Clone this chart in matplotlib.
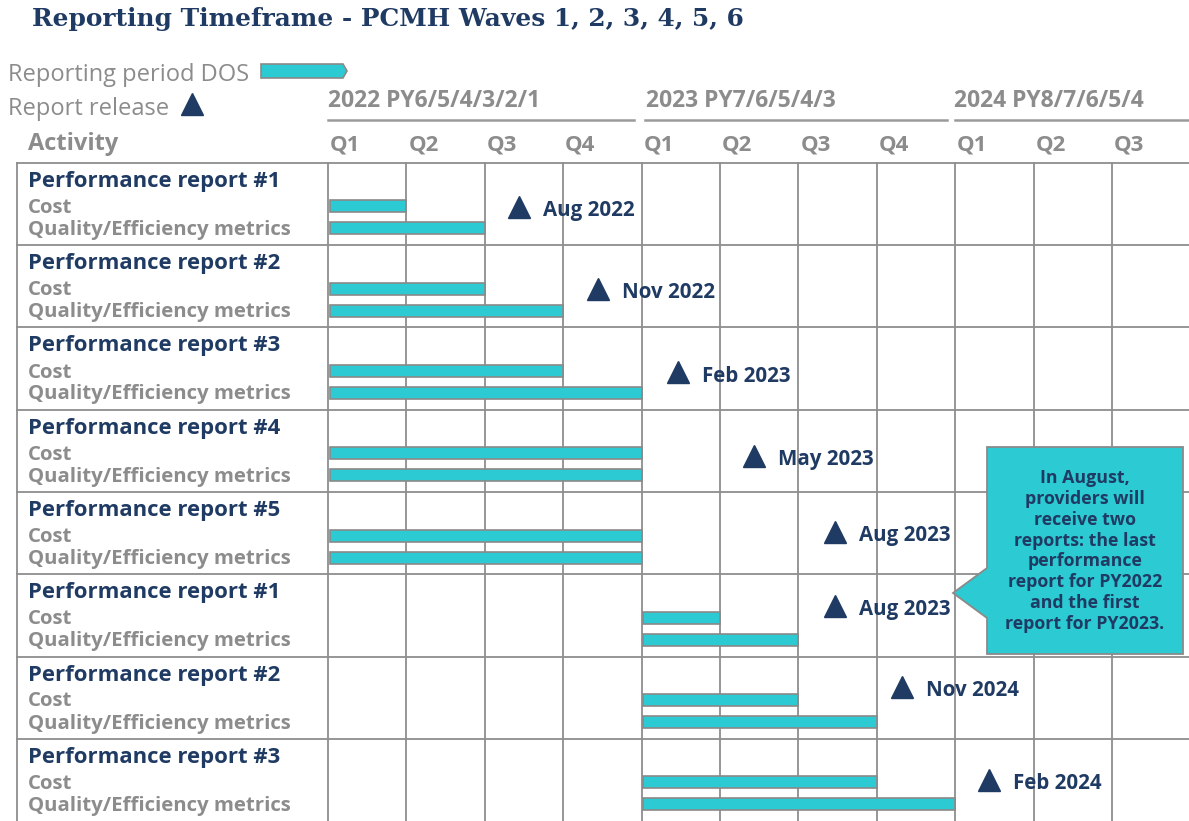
import matplotlib
matplotlib.use("Agg")
import matplotlib.pyplot as plt
from matplotlib.transforms import Affine2D
from matplotlib.patches import Polygon

# ---- data ----
reports = ["Performance report #1", "Performance report #2", "Performance report #3",
           "Performance report #4", "Performance report #5",
           "Performance report #1", "Performance report #2", "Performance report #3"]
bar_start = [0, 0, 0, 0, 0, 4, 4, 4]          # quarters since 2022 Q1
cost_end = [1, 2, 3, 4, 4, 5, 6, 7]
quality_end = [2, 3, 4, 4, 4, 6, 7, 8]
release_q = [2.43, 3.44, 4.46, 5.43, 6.47, 6.47, 7.32, 8.43]
release_lbl = ["Aug 2022", "Nov 2022", "Feb 2023", "May 2023",
               "Aug 2023", "Aug 2023", "Nov 2024", "Feb 2024"]
years = ["2022 PY6/5/4/3/2/1", "2023 PY7/6/5/4/3", "2024 PY8/7/6/5/4"]
quarters = ["Q1", "Q2", "Q3", "Q4", "Q1", "Q2", "Q3", "Q4", "Q1", "Q2", "Q3"]
note = ("In August,\nproviders will\nreceive two\nreports: the last\nperformance\n"
        "report for PY2022\nand the first\nreport for PY2023.")

CYAN = "#2ccad2"
NAVY = "#1f3a63"
GRAY = "#8c8c8c"
LINE = "#8e8e8e"
W, H = 1189, 821

plt.rcParams['font.family'] = ['Open Sans', 'DejaVu Sans']
fig = plt.figure(figsize=(W / 100, H / 100), dpi=100)
pix = Affine2D().scale(1 / W, -1 / H).translate(0, 1) + fig.transFigure

# data axes: x in quarters, y in rows (px = 328 + 78.4*q, py = 163 + 82.25*r)
QW, RH = 78.4, 82.25
ax = fig.add_axes([0, 0, 1, 1])
ax.set_xlim(-328 / QW, (W - 328) / QW)
ax.set_ylim(8, -163 / RH)
ax.axis("off")

# grid
for q in range(0, 11):
    ax.plot([q, q], [0, 8], color=LINE, lw=1.3, zorder=1)
ax.plot([-311 / QW, -311 / QW], [0, 8], color=LINE, lw=1.3, zorder=1)
for r in range(0, 8):
    ax.plot([-311 / QW, (W - 328) / QW], [r, r], color=LINE, lw=1.3, zorder=1)

# bars
mark_dy = [44, 44, 45, 46, 40, 32, 30, 41]
for i in range(8):
    ax.barh(i + 43.5 / RH, cost_end[i] - bar_start[i] - 0.02, left=bar_start[i] + 0.02,
            height=12 / RH, color=CYAN, edgecolor="#8a8a8a", lw=1.2, zorder=3)
    ax.barh(i + 65.5 / RH, quality_end[i] - bar_start[i] - 0.02, left=bar_start[i] + 0.02,
            height=12 / RH, color=CYAN, edgecolor="#8a8a8a", lw=1.2, zorder=3)
    my = i + mark_dy[i] / RH
    ax.plot(release_q[i], my, marker="^", ms=16, color=NAVY, zorder=4)
    ax.text(release_q[i] + 24 / QW, my + 9 / RH, release_lbl[i], color=NAVY,
            fontsize=14.8, fontweight="bold", va="baseline", ha="left", zorder=4)
    # left labels
    top = 163 + RH * i
    fig.text(28, top + 24, reports[i], transform=pix, color=NAVY, fontsize=15.9,
             fontweight="bold", va="baseline")
    fig.text(28, top + 50, "Cost", transform=pix, color=GRAY, fontsize=14.7,
             fontweight="bold", va="baseline")
    fig.text(28, top + 72, "Quality/Efficiency metrics", transform=pix, color=GRAY,
             fontsize=14.7, fontweight="bold", va="baseline")

# header
fig.text(32, 26, "Reporting Timeframe - PCMH Waves 1, 2, 3, 4, 5, 6", transform=pix,
         family="DejaVu Serif", fontweight="bold", fontsize=17.9, color=NAVY, va="baseline")
fig.text(8, 81, "Reporting period DOS", transform=pix, color=GRAY, fontsize=17, va="baseline")
fig.text(8, 115, "Report release", transform=pix, color=GRAY, fontsize=17, va="baseline")
fig.patches.append(Polygon([(261, 64), (343, 64), (347, 71), (343, 78), (261, 78)],
                           closed=True, transform=pix, fc=CYAN, ec="#8a8a8a", lw=1.2))
fig.lines.append(plt.Line2D([192], [104], transform=pix, marker="^", ms=16, color=NAVY))

year_x = [328, 646, 954]
year_line = [(328, 634), (645, 947), (955, W)]
for i in range(3):
    fig.text(year_x[i], 107, years[i], transform=pix, color=GRAY, fontsize=16.5,
             fontweight="bold", va="baseline")
    fig.lines.append(plt.Line2D(year_line[i], [120, 120], transform=pix, color="#9a9a9a", lw=1.8))
for q, lbl in enumerate(quarters):
    ax.text(q + 2 / QW, -12 / RH, lbl, color=GRAY, fontsize=16, fontweight="bold",
            va="baseline")
fig.text(28, 150, "Activity", transform=pix, color=GRAY, fontsize=17, fontweight="bold",
         va="baseline")

# callout
fig.patches.append(Polygon([(987, 447), (1183, 447), (1183, 654), (987, 654), (987, 618),
                            (953, 593), (987, 568)], closed=True, transform=pix,
                           fc=CYAN, ec="#8a8a8a", lw=1.3, zorder=5))
fig.text(1085, 551, note, transform=pix, color=NAVY, fontsize=12.8, fontweight="bold",
         ha="center", va="center", linespacing=1.2, zorder=6)

fig.savefig("out.png", dpi=100)
